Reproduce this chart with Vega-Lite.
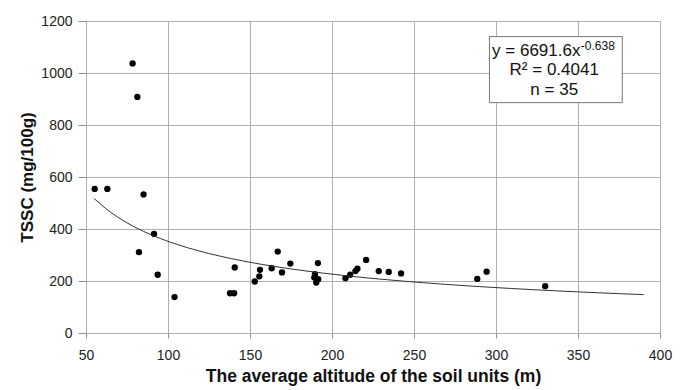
{
  "$schema": "https://vega.github.io/schema/vega-lite/v6.json",
  "width": 574,
  "height": 312,
  "autosize": "none",
  "padding": {"left": 86, "top": 21, "right": 20, "bottom": 57},
  "background": "white",
  "config": {
    "font": "Liberation Sans",
    "view": {"stroke": "#888888", "strokeWidth": 1},
    "axis": {
      "gridColor": "#b0b0b0",
      "gridWidth": 1,
      "domain": false,
      "tickColor": "#909090",
      "labelFont": "Liberation Sans",
      "labelFontSize": 14,
      "labelColor": "#222222",
      "labelFlush": false,
      "titleFont": "Liberation Sans",
      "titleFontWeight": "bold",
      "titleColor": "#111111"
    }
  },
  "datasets": {
    "pts": [
      {"alt": 55.3, "tssc": 554},
      {"alt": 63, "tssc": 554},
      {"alt": 78.4, "tssc": 1037},
      {"alt": 81.3, "tssc": 908},
      {"alt": 82.3, "tssc": 311},
      {"alt": 85.1, "tssc": 533},
      {"alt": 91.5, "tssc": 381},
      {"alt": 93.7, "tssc": 224},
      {"alt": 104, "tssc": 138},
      {"alt": 137.8, "tssc": 153},
      {"alt": 140.3, "tssc": 153},
      {"alt": 140.7, "tssc": 252},
      {"alt": 152.9, "tssc": 198},
      {"alt": 155.7, "tssc": 218},
      {"alt": 156.1, "tssc": 243},
      {"alt": 163.2, "tssc": 249},
      {"alt": 166.9, "tssc": 313},
      {"alt": 169.5, "tssc": 233},
      {"alt": 174.6, "tssc": 267},
      {"alt": 189.6, "tssc": 226},
      {"alt": 189.2, "tssc": 213},
      {"alt": 190.4, "tssc": 194},
      {"alt": 191.6, "tssc": 207},
      {"alt": 191.4, "tssc": 269},
      {"alt": 208.2, "tssc": 211},
      {"alt": 211.1, "tssc": 224},
      {"alt": 214.3, "tssc": 238},
      {"alt": 215.5, "tssc": 247},
      {"alt": 220.8, "tssc": 281},
      {"alt": 228.5, "tssc": 238},
      {"alt": 234.6, "tssc": 235},
      {"alt": 242.1, "tssc": 229},
      {"alt": 288.6, "tssc": 208},
      {"alt": 294.3, "tssc": 236},
      {"alt": 330, "tssc": 180}
    ],
    "note": [
      {"eq": "y = 6691.6x", "sup": "-0.638", "r2": "R² = 0.4041", "n": "n = 35"}
    ]
  },
  "layer": [
    {
      "data": {"name": "pts"},
      "mark": {"type": "circle", "color": "#000000", "opacity": 1, "size": 40},
      "encoding": {
        "x": {
          "field": "alt",
          "type": "quantitative",
          "scale": {"domain": [50, 400], "nice": false, "zero": false},
          "axis": {
            "values": [50, 100, 150, 200, 250, 300, 350, 400],
            "format": "d",
            "title": "The average altitude of the soil units (m)",
            "titleFontSize": 17.5,
            "tickSize": 5,
            "labelPadding": 10,
            "titlePadding": 5
          }
        },
        "y": {
          "field": "tssc",
          "type": "quantitative",
          "scale": {"domain": [0, 1200], "nice": false},
          "axis": {
            "values": [0, 200, 400, 600, 800, 1000, 1200],
            "format": "d",
            "title": "TSSC (mg/100g)",
            "titleFontSize": 17,
            "tickSize": 8,
            "labelPadding": 6,
            "titlePadding": 4
          }
        }
      }
    },
    {
      "data": {"name": "pts"},
      "transform": [{"regression": "tssc", "on": "alt", "method": "pow", "extent": [55, 390]}],
      "mark": {"type": "line", "color": "#333333", "strokeWidth": 1},
      "encoding": {
        "x": {"field": "alt", "type": "quantitative"},
        "y": {"field": "tssc", "type": "quantitative"}
      }
    },
    {
      "data": {"name": "note"},
      "mark": {"type": "rect", "fill": "white", "stroke": "#777777", "strokeWidth": 1},
      "encoding": {
        "x": {"datum": 296, "type": "quantitative"},
        "x2": {"datum": 377},
        "y": {"datum": 1140, "type": "quantitative"},
        "y2": {"datum": 886}
      }
    },
    {
      "data": {"name": "note"},
      "mark": {"type": "text", "align": "right", "baseline": "middle", "fontSize": 17, "color": "#111111"},
      "encoding": {
        "text": {"field": "eq"},
        "x": {"datum": 351.5, "type": "quantitative"},
        "y": {"datum": 1084, "type": "quantitative"}
      }
    },
    {
      "data": {"name": "note"},
      "mark": {"type": "text", "align": "left", "baseline": "middle", "fontSize": 12, "dy": -5, "color": "#111111"},
      "encoding": {
        "text": {"field": "sup"},
        "x": {"datum": 351.7, "type": "quantitative"},
        "y": {"datum": 1084, "type": "quantitative"}
      }
    },
    {
      "data": {"name": "note"},
      "mark": {"type": "text", "align": "center", "baseline": "middle", "fontSize": 17, "color": "#111111"},
      "encoding": {
        "text": {"field": "r2"},
        "x": {"datum": 335.5, "type": "quantitative"},
        "y": {"datum": 1011, "type": "quantitative"}
      }
    },
    {
      "data": {"name": "note"},
      "mark": {"type": "text", "align": "center", "baseline": "middle", "fontSize": 17, "color": "#111111"},
      "encoding": {
        "text": {"field": "n"},
        "x": {"datum": 335.5, "type": "quantitative"},
        "y": {"datum": 934, "type": "quantitative"}
      }
    }
  ]
}
